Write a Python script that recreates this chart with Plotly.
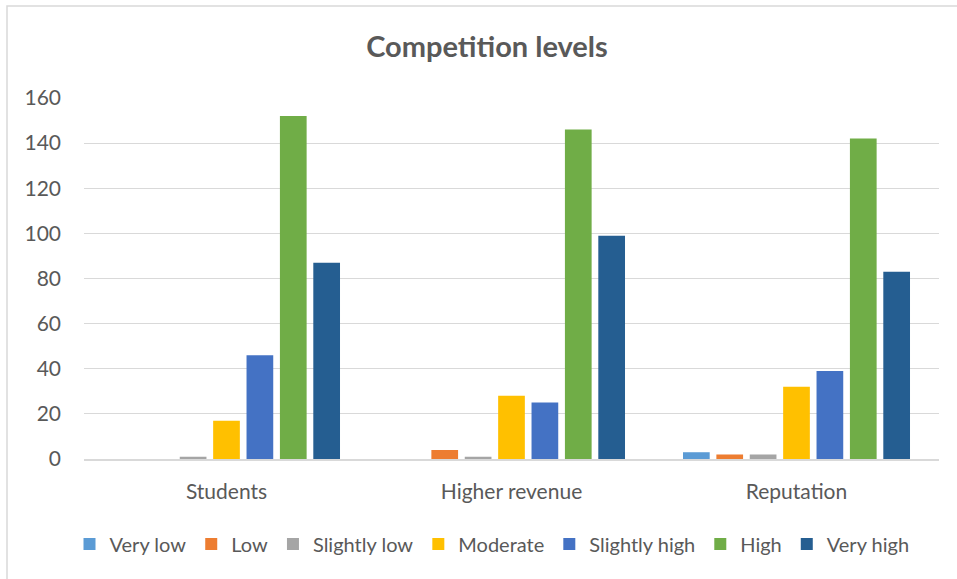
import plotly.graph_objects as go

categories = ["Students", "Higher revenue", "Reputation"]

series_names = ["Very low", "Low", "Slightly low", "Moderate", "Slightly high", "High", "Very high"]
very_low = [0, 0, 3]
low = [0, 4, 2]
slightly_low = [1, 1, 2]
moderate = [17, 28, 32]
slightly_high = [46, 25, 39]
high = [152, 146, 142]
very_high = [87, 99, 83]

series_values = [very_low, low, slightly_low, moderate, slightly_high, high, very_high]
series_colors = ["#5B9BD5", "#ED7D31", "#A5A5A5", "#FFC000", "#4472C4", "#70AD47", "#255E91"]

y_ticks = [0, 20, 40, 60, 80, 100, 120, 140, 160]

FONT = "Lato, 'Open Sans', sans-serif"
TEXT = "#595959"

fig = go.Figure()
for name, vals, color in zip(series_names, series_values, series_colors):
    fig.add_trace(go.Bar(x=categories, y=vals, name=name,
                         marker=dict(color=color, line=dict(width=0))))

# plot area spans x 84..939 px, y 98..459 px
W, H = 957, 579
L, R, T, B = 84, 18, 98, 120
pw, ph = W - L - R, H - T - B

def px_x(p):
    return (p - L) / pw

def px_y(p):
    return (H - B - p) / ph

fig.update_layout(
    width=W, height=H,
    margin=dict(l=L, r=R, t=T, b=B, autoexpand=False),
    paper_bgcolor="white", plot_bgcolor="white",
    barmode="group", bargap=0.18, bargroupgap=0.2,
    font=dict(family=FONT, color=TEXT, size=21),
    title=dict(text="<b>Competition levels</b>", x=px_x(487), xref="paper",
               xanchor="center", y=1 - 47 / H, yanchor="middle",
               font=dict(size=29, color=TEXT, family=FONT)),
    legend=dict(orientation="h", xref="container", yref="container",
                x=492 / W, xanchor="center", y=1 - 544 / H, yanchor="middle",
                font=dict(size=20, color=TEXT, family=FONT),
                itemwidth=30, tracegroupgap=0, bgcolor="rgba(0,0,0,0)"),
    xaxis=dict(showgrid=False, showline=True, linecolor="#D9D9D9", linewidth=1.5,
               ticks="", tickfont=dict(size=21, color=TEXT), ticklabelstandoff=13,
               fixedrange=True),
    yaxis=dict(range=[0, 160], tickvals=y_ticks, showgrid=True,
               gridcolor="#D9D9D9", gridwidth=1.2, zeroline=False,
               ticks="", tickfont=dict(size=21, color=TEXT), ticklabelstandoff=22,
               showline=False),
    shapes=[dict(type="rect", xref="paper", yref="paper",
                 x0=px_x(7), x1=px_x(970), y0=px_y(590), y1=px_y(6),
                 line=dict(color="#D9D9D9", width=1.5), fillcolor="rgba(0,0,0,0)",
                 layer="below")],
)

fig.write_html("out.html")
